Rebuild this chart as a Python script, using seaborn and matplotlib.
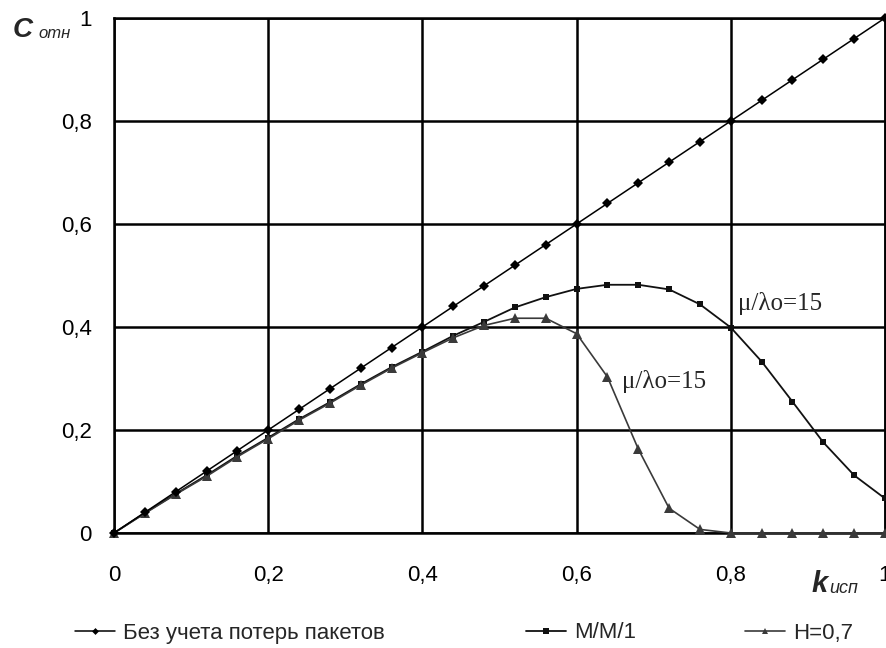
import matplotlib
matplotlib.use('Agg')
import pandas as pd
import seaborn as sns
import matplotlib.pyplot as plt
from matplotlib.lines import Line2D


# utilization coefficient k_исп
k_isp = [0.00, 0.04, 0.08, 0.12, 0.16, 0.20, 0.24, 0.28, 0.32, 0.36, 0.40, 0.44, 0.48,
         0.52, 0.56, 0.60, 0.64, 0.68, 0.72, 0.76, 0.80, 0.84, 0.88, 0.92, 0.96, 1.00]

# C_отн without packet losses
c_no_loss = [0.00, 0.04, 0.08, 0.12, 0.16, 0.20, 0.24, 0.28, 0.32, 0.36, 0.40, 0.44, 0.48,
             0.52, 0.56, 0.60, 0.64, 0.68, 0.72, 0.76, 0.80, 0.84, 0.88, 0.92, 0.96, 1.00]

# M/M/1 model
c_mm1 = [0.000, 0.039, 0.076, 0.112, 0.150, 0.185, 0.221, 0.254, 0.289, 0.322, 0.352, 0.383, 0.410,
         0.438, 0.458, 0.474, 0.482, 0.482, 0.473, 0.444, 0.399, 0.333, 0.255, 0.176, 0.112, 0.067]

# self-similar traffic, H=0,7
c_h07 = [0.000, 0.038, 0.075, 0.110, 0.148, 0.183, 0.219, 0.252, 0.287, 0.320, 0.350, 0.379, 0.403,
         0.417, 0.417, 0.387, 0.303, 0.163, 0.048, 0.007, 0.000, 0.000, 0.000, 0.000, 0.000, 0.000]

legend_labels = ['Без учета потерь пакетов', 'M/M/1', 'H=0,7']
tick_labels = ['0', '0,2', '0,4', '0,6', '0,8', '1']
ticks = [0, 0.2, 0.4, 0.6, 0.8, 1.0]

sns.set_style('white')
plt.rcParams['font.family'] = ['Liberation Sans', 'DejaVu Sans']

W, H = 886, 648
fig = plt.figure(figsize=(W / 100, H / 100), dpi=100)
ax = fig.add_axes([114 / W, 115 / H, 771 / W, 515 / H])

df = pd.DataFrame({'k': k_isp, 'base': c_no_loss, 'mm1': c_mm1, 'h07': c_h07})

sns.lineplot(data=df, x='k', y='base', ax=ax, color='black', linewidth=1.1,
             marker='D', markersize=5, markeredgewidth=0, clip_on=False, zorder=5)
sns.lineplot(data=df, x='k', y='mm1', ax=ax, color='#111111', linewidth=1.3,
             marker='s', markersize=5, markeredgewidth=0, clip_on=False, zorder=4)
sns.lineplot(data=df, x='k', y='h07', ax=ax, color='#3a3a3a', linewidth=1.2,
             marker='^', markersize=6.5, markeredgewidth=0, clip_on=False, zorder=4)

ax.set_xlim(0, 1)
ax.set_ylim(0, 1)
ax.set_xticks(ticks)
ax.set_yticks(ticks)
ax.set_xticklabels(tick_labels)
ax.set_yticklabels(tick_labels)
ax.set_xlabel('')
ax.set_ylabel('')
ax.grid(True, color='black', linewidth=1.8)
for s in ax.spines.values():
    s.set_visible(True)
    s.set_color('black')
    s.set_linewidth(1.8)
ax.tick_params(axis='both', direction='out', length=7, width=1.5, color='black',
               labelsize=16, labelcolor='black')
ax.tick_params(axis='x', pad=16)
ax.tick_params(axis='y', pad=9)

# curve annotations
ax.text(0.809, 0.433, 'μ/λo=15', fontsize=18, family='Liberation Serif', va='baseline')
ax.text(0.659, 0.282, 'μ/λo=15', fontsize=18, family='Liberation Serif', va='baseline')

# axis titles with subscripts
fig.text(13 / W, 1 - 37 / H, 'C', fontsize=20, fontweight='bold', style='italic', va='baseline')
fig.text(38 / W, 1 - 38 / H, 'отн', fontsize=12, style='italic', va='baseline')
fig.text(811 / W, 1 - 592 / H, 'k', fontsize=21, fontweight='bold', style='italic', va='baseline')
fig.text(829 / W, 1 - 593 / H, 'исп', fontsize=13, style='italic', va='baseline')

# legend entries spread along the bottom
handles = [
    Line2D([], [], color='black', linewidth=1.1, marker='D', markersize=3.5, markeredgewidth=0),
    Line2D([], [], color='#111111', linewidth=1.3, marker='s', markersize=4, markeredgewidth=0),
    Line2D([], [], color='#3a3a3a', linewidth=1.2, marker='^', markersize=5, markeredgewidth=0),
]
for h, lab, x0 in zip(handles, legend_labels, [75, 526, 745]):
    fig.legend(handles=[h], labels=[lab], loc='center left',
               bbox_to_anchor=(x0 / W, 1 - 633 / H), frameon=False, fontsize=16,
               handlelength=1.8, handletextpad=0.35, borderpad=0, borderaxespad=0)

fig.savefig('out.png', dpi=100)
